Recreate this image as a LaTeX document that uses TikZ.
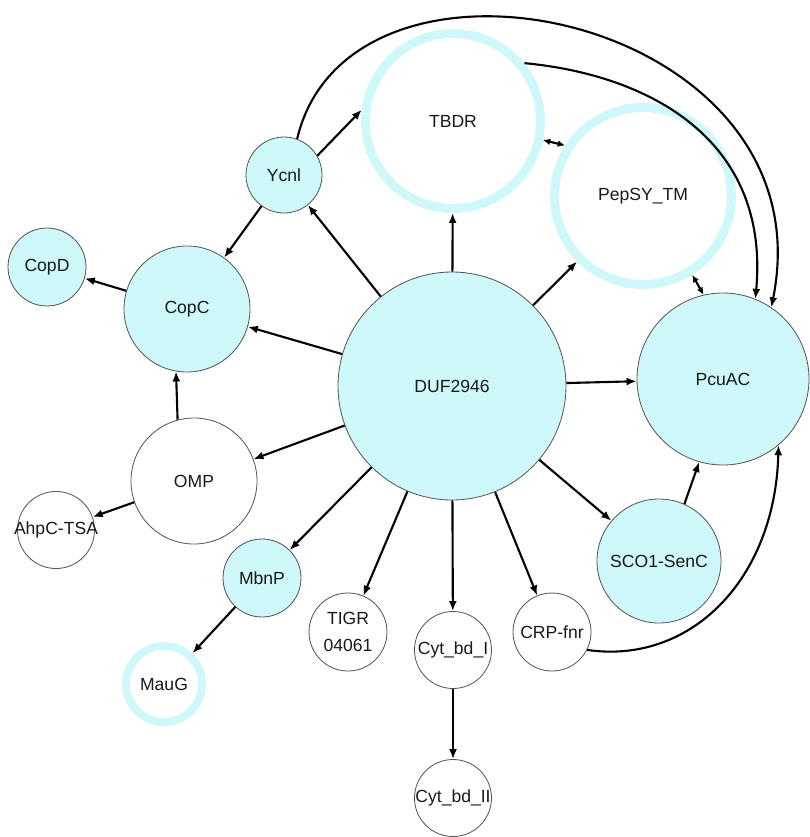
\documentclass[tikz,border=0pt]{standalone}
\usepackage{fontspec}
\setmainfont{Liberation Sans}
\usetikzlibrary{arrows.meta}
\definecolor{cufill}{RGB}{207,248,250}
\definecolor{rimgray}{RGB}{85,85,85}
\begin{document}
\begin{tikzpicture}[x=0.03cm, y=-0.03cm,
  every node/.style={circle, inner sep=0pt, font=\fontsize{15}{17.5}\selectfont, text=black!90},
  filled/.style={draw=rimgray, line width=0.7pt, fill=cufill, minimum size=#1},
  bare/.style={draw=rimgray, line width=0.7pt, fill=white, minimum size=#1},
  ring/.style 2 args={draw=cufill, line width=#1, fill=white, minimum size=#2},
  link/.style={line width=1.8pt, -{Latex[length=0.3cm, width=0.24cm]}},
  twoway/.style={line width=1.8pt, {Latex[length=0.22cm, width=0.2cm]}-{Latex[length=0.22cm, width=0.2cm]}}]
  \useasboundingbox (0,0) rectangle (809,837);
  \node[filled=6.84cm] (duf)   at (452,386) {DUF2946};
  \node[filled=5.16cm] (pcuac) at (723,379) {PcuAC};
  \node[filled=3.72cm] (sco)   at (659,561) {SCO1-SenC};
  \node[filled=3.78cm] (copc)  at (187,309) {CopC};
  \node[filled=2.34cm] (copd)  at (47,267)  {CopD};
  \node[filled=2.28cm] (ycnl)  at (284,175) {Ycnl};
  \node[filled=2.34cm] (mbnp)  at (262,578) {MbnP};
  \node[ring={7.6pt}{5.25cm}] (tbdr)  at (453,121) {TBDR};
  \node[ring={7.6pt}{5.31cm}] (pepsy) at (643,196) {PepSY\_TM};
  \node[ring={6.8pt}{2.28cm}] (maug)  at (164,684) {MauG};
  \node[bare=3.78cm] (omp)  at (194,481) {OMP};
  \node[bare=2.31cm] (ahpc) at (56,530)  {\makebox[0pt]{AhpC-TSA}};
  \node[bare=2.34cm, align=center] (tigr) at (348,632) {TIGR\\[5pt]04061};
  \node[bare=2.31cm] (cyt1) at (453,650) {\makebox[0pt]{Cyt\_bd\_I}};
  \node[bare=2.31cm] (cyt2) at (453,798) {\makebox[0pt]{Cyt\_bd\_II}};
  \node[bare=2.34cm] (crp)  at (552,632) {CRP-fnr};
  \draw[link] (duf) -- (tbdr);
  \draw[link] (duf) -- (pepsy);
  \draw[link] (duf) -- (pcuac);
  \draw[link] (duf) -- (sco);
  \draw[link] (duf) -- (crp);
  \draw[link] (duf) -- (cyt1);
  \draw[link] (duf) -- (tigr);
  \draw[link] (duf) -- (mbnp);
  \draw[link] (duf) -- (omp);
  \draw[link] (duf) -- (copc);
  \draw[link] (duf) -- (ycnl);
  \draw[link] (ycnl.30) -- (tbdr.173);
  \draw[link] (ycnl) -- (copc);
  \draw[link] (copc) -- (copd);
  \draw[link] (omp.105) -- (copc.260);
  \draw[link] (omp) -- (ahpc);
  \draw[link] (mbnp) -- (maug);
  \draw[link] (cyt1) -- (cyt2);
  \draw[link] (sco.66) -- (pcuac.254);
  \draw[twoway] (tbdr.-12) -- (pepsy.147);
  \draw[twoway] (pepsy.-58) -- (pcuac.103);
  \draw[link] (ycnl.70) .. controls (350,-85) and (830,15) .. (pcuac.56);
  \draw[link] (tbdr.39) .. controls (650,75) and (770,140) .. (pcuac.68);
  \draw[link] (crp.-27) .. controls (690,665) and (775,580) .. (pcuac.-50);
\end{tikzpicture}
\end{document}
